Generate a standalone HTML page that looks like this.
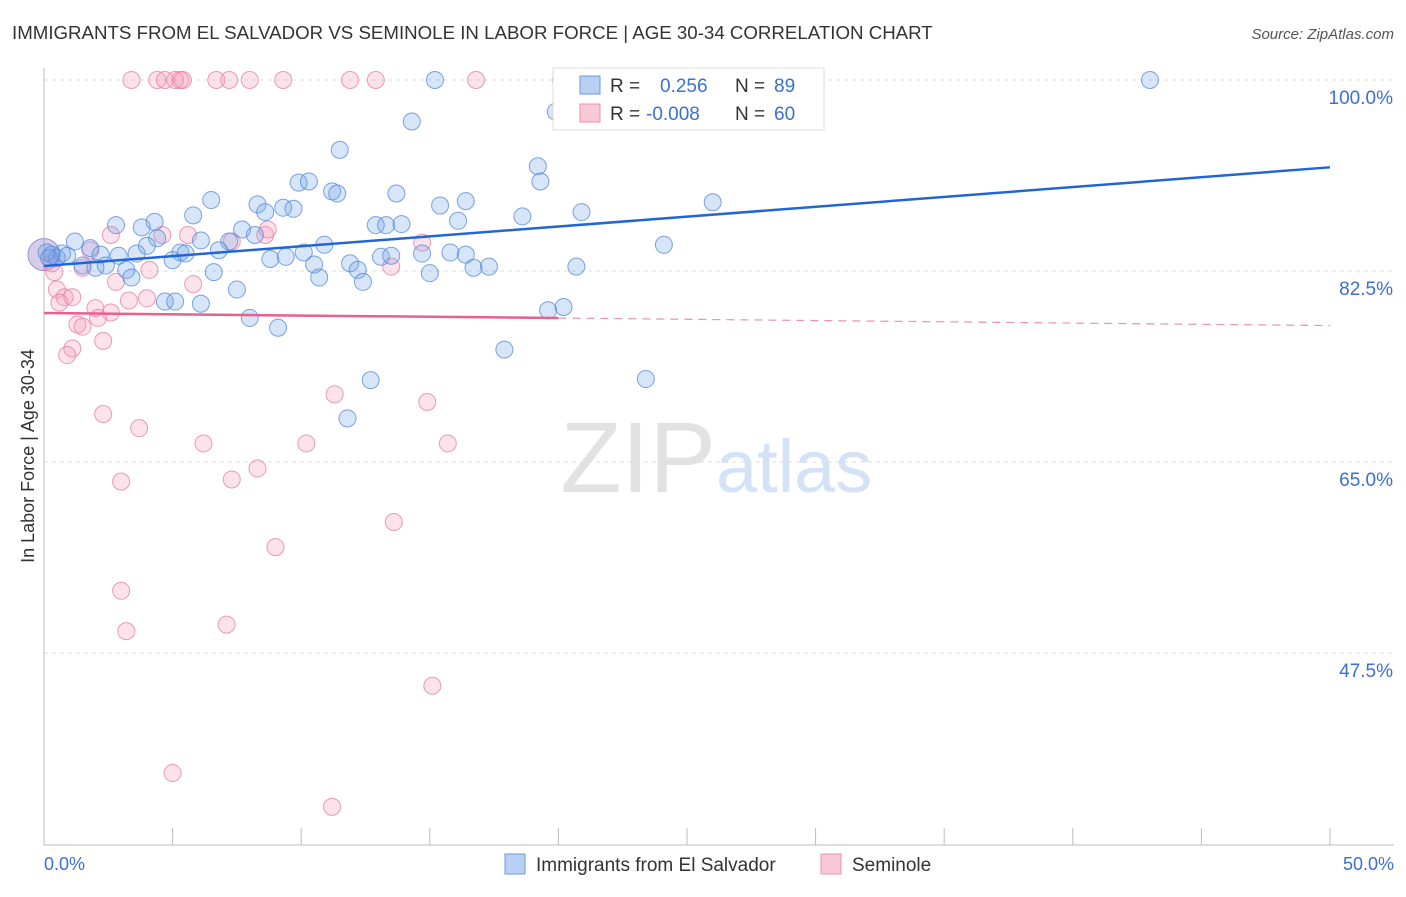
<!DOCTYPE html>
<html><head><meta charset="utf-8"><style>
body{margin:0;background:#fff;font-family:"Liberation Sans",sans-serif}
svg text{font-family:"Liberation Sans",sans-serif}
</style></head><body>
<svg width="1406" height="892" xmlns="http://www.w3.org/2000/svg">
<text x="12" y="39" font-size="18.7" fill="#333">IMMIGRANTS FROM EL SALVADOR VS SEMINOLE IN LABOR FORCE | AGE 30-34 CORRELATION CHART</text>
<text x="1394" y="39" font-size="15" fill="#555" font-style="italic" text-anchor="end">Source: ZipAtlas.com</text>
<text x="716" y="492" font-size="100" fill="#e2e2e2" text-anchor="end" font-family="Liberation Serif">ZIP</text>
<text x="716" y="492" font-size="74" fill="#d3e2f6">atlas</text>
<g id="grid"></g>
<line x1="44" y1="68" x2="44" y2="845" stroke="#bbb"/>
<line x1="44" y1="845" x2="1394" y2="845" stroke="#bbb"/>
<g id="ticks"></g>
<g id="pts"></g>
<g id="lines"></g>
<text x="34" y="456" font-size="18" fill="#333" text-anchor="middle" transform="rotate(-90 34 456)">In Labor Force | Age 30-34</text>
<text x="44" y="870" font-size="18" fill="#3b6fd4">0.0%</text>
<text x="1394" y="870" font-size="18" fill="#3b6fd4" text-anchor="end">50.0%</text>
<g>
<rect x="553" y="68" width="271" height="62" fill="#fff" stroke="#ddd"/>
<rect x="580" y="76" width="20" height="18" fill="#b8d0f4" stroke="#6a98e0"/>
<rect x="580" y="104" width="20" height="18" fill="#f8c8d6" stroke="#e890ad"/>
<text x="610" y="92" font-size="19" fill="#333">R =</text><text x="660" y="92" font-size="19" fill="#3b6fd4">0.256</text>
<text x="735" y="92" font-size="19" fill="#333">N =</text><text x="774" y="92" font-size="19" fill="#3b6fd4">89</text>
<text x="610" y="120" font-size="19" fill="#333">R =</text><text x="646" y="120" font-size="19" fill="#3b6fd4">-0.008</text>
<text x="735" y="120" font-size="19" fill="#333">N =</text><text x="774" y="120" font-size="19" fill="#3b6fd4">60</text>
</g>
<g><rect x="505" y="854" width="20" height="20" fill="#b8d0f4" stroke="#6a98e0"/><text x="536" y="871" font-size="19" fill="#333">Immigrants from El Salvador</text></g>
<g><rect x="821" y="854" width="20" height="20" fill="#f8c8d6" stroke="#e890ad"/><text x="852" y="871" font-size="19" fill="#333">Seminole</text></g>
</svg>
<script>
const yTicks=[100,82.5,65,47.5];
const yTickLabels=["100.0%","82.5%","65.0%","47.5%"];
const xTicks=[0,5,10,15,20,25,30,35,40,45,50];
const blueX=[15.2,43.0,14.3,19.9,11.5,19.2,19.3,6.5,9.9,10.3,11.2,11.4,13.7,15.4,16.4,5.8,8.3,8.6,9.3,9.7,12.9,13.3,13.9,16.1,18.6,20.9,26.0,2.8,4.3,3.8,4.4,6.1,7.2,7.7,8.2,10.9,10.1,24.1,1.2,1.8,0.7,0.3,0.5,0.9,2.2,2.9,3.6,4.0,5.3,5.5,5.0,6.8,8.8,9.4,10.5,11.9,12.2,13.1,13.5,14.7,15.8,16.4,16.7,17.3,20.7,1.5,2.0,2.4,3.2,3.4,6.6,10.7,12.4,15.0,4.7,5.1,6.1,7.5,8.0,9.1,19.6,20.2,17.9,12.7,11.8,23.4,0.1,0.2];
const blueY=[100,100,96.2,97.1,93.6,92.1,90.7,89.0,90.6,90.7,89.8,89.6,89.6,88.5,88.9,87.6,88.6,87.9,88.3,88.2,86.7,86.7,86.8,87.1,87.5,87.9,88.8,86.7,87.0,86.5,85.5,85.3,85.2,86.3,85.8,84.9,84.2,84.9,85.2,84.6,84.1,84.0,83.7,83.9,84.0,83.9,84.1,84.8,84.2,84.1,83.5,84.4,83.6,83.8,83.1,83.2,82.6,83.8,83.9,84.1,84.2,84.0,82.8,82.9,82.9,83.0,82.8,83.0,82.6,81.9,82.4,81.9,81.5,82.3,79.7,79.7,79.5,80.8,78.2,77.3,78.9,79.2,75.3,72.5,69.0,72.6,84.2,83.7];
const pinkX=[3.4,4.4,4.7,5.1,5.3,5.4,6.7,7.2,8.0,9.3,11.9,12.9,16.8,20.1,2.6,1.8,4.6,5.6,7.3,8.6,8.7,14.7,13.5,0.3,0.4,1.5,4.1,5.8,2.8,0.5,0.8,1.1,0.6,2.0,2.1,3.3,4.0,2.6,1.3,1.5,2.3,1.1,0.9,2.3,3.7,6.2,10.2,11.3,14.9,15.7,3.0,7.3,8.3,13.6,9.0,3.0,3.2,7.1,15.1,5.0,11.2];
const pinkY=[100,100,100,100,100,100,100,100,100,100,100,100,100,100,85.8,84.4,85.8,85.8,85.2,85.8,86.3,85.1,82.9,83.2,82.4,82.8,82.6,81.3,81.5,80.8,80.1,80.1,79.6,79.1,78.2,79.8,80.0,78.7,77.6,77.4,76.1,75.4,74.8,69.4,68.1,66.7,66.7,71.2,70.5,66.7,63.2,63.4,64.4,59.5,57.2,53.2,49.5,50.1,44.5,36.5,33.4];
const blueLine=[82.96,92.0];
const pinkLine=[78.65,77.5];
const X=v=>44+v*25.72, Y=v=>80+(100-v)*191/17.5;
const NS="http://www.w3.org/2000/svg";
function mk(p,t,a){const e=document.createElementNS(NS,t);for(const k in a)e.setAttribute(k,a[k]);document.getElementById(p).appendChild(e);return e;}
yTicks.forEach((v,i)=>{
 const l=mk('grid','line',{x1:44,x2:1394,y1:Y(v),y2:Y(v),stroke:'#ddd','stroke-dasharray':'4 4'});
 
 
 const t=mk('grid','text',{x:1393,y:Y(v)+24,'font-size':19,fill:'#3b6fd4','text-anchor':'end'});t.textContent=yTickLabels[i];
 
 
});
xTicks.forEach(v=>{
 const l=mk('ticks','line',{x1:X(v),x2:X(v),y1:828,y2:845,stroke:'#bbb'});
 
 
});
const big=mk('pts','circle',{cx:X(0),cy:Y(84),r:16,fill:'rgba(150,130,200,0.4)',stroke:'#a08cd0'});


pinkX.forEach((v,i)=>{
 const c=mk('pts','circle',{cx:X(v),cy:Y(pinkY[i]),r:8.5,fill:'rgba(244,150,180,0.28)',stroke:'rgba(232,130,165,0.8)','stroke-width':1});
 
 
});
blueX.forEach((v,i)=>{
 const c=mk('pts','circle',{cx:X(v),cy:Y(blueY[i]),r:8.5,fill:'rgba(110,160,235,0.28)',stroke:'rgba(90,140,220,0.8)','stroke-width':1});
 
 
});
const bl=mk('lines','line',{x1:X(0),y1:Y(blueLine[0]),x2:X(50),y2:Y(blueLine[1]),stroke:'#2266d6','stroke-width':2.5});


const pm=v=>pinkLine[0]+(pinkLine[1]-pinkLine[0])*v/50;
const pl=mk('lines','line',{x1:X(0),y1:Y(pm(0)),x2:X(20),y2:Y(pm(20)),stroke:'#e8608c','stroke-width':2.5});


const pd=mk('lines','line',{x1:X(20),y1:Y(pm(20)),x2:X(50),y2:Y(pm(50)),stroke:'#eb90ae','stroke-width':1.2,'stroke-dasharray':'8 6'});


</script>
</body></html>
